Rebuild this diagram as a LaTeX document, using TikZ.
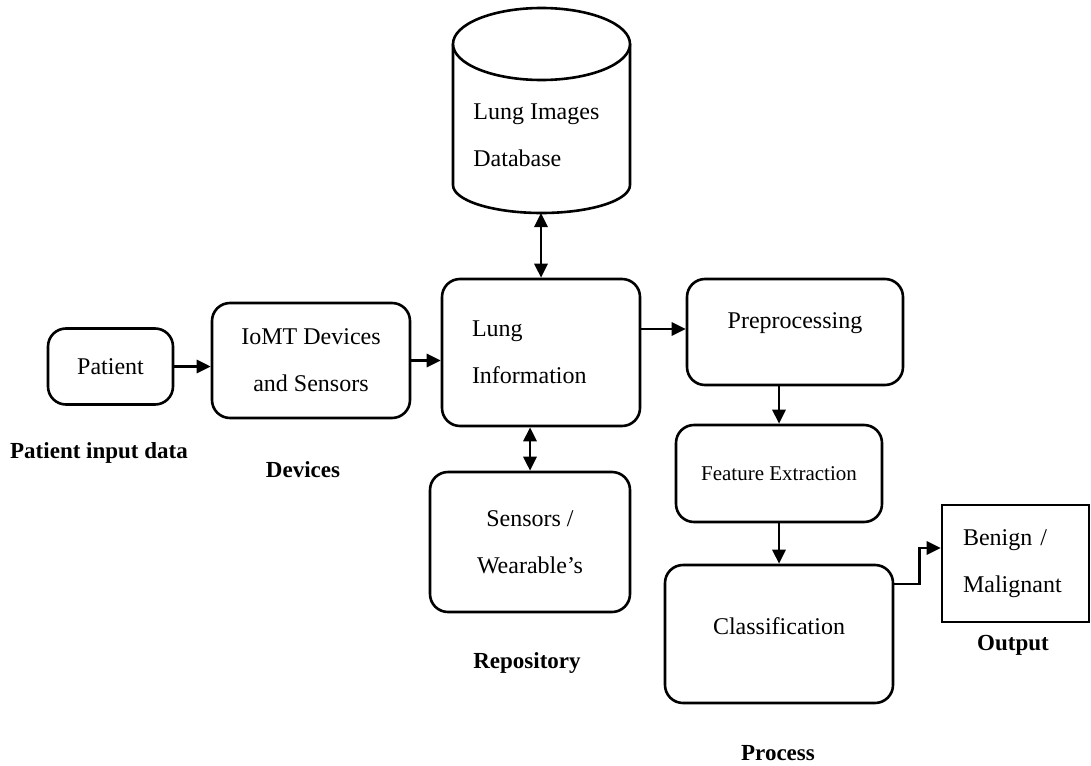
\documentclass[tikz,border=0pt]{standalone}
\usepackage{fontspec}
\setmainfont{Liberation Serif}
\usetikzlibrary{arrows.meta}

\begin{document}
\begin{tikzpicture}[x=0.5pt,y=-0.5pt,
    box/.style={draw,line width=1.3pt,rounded corners=9pt,align=center,font=\fontsize{12}{23.5}\selectfont},
    arr/.style={line width=1.4pt,-{Triangle[length=7pt,width=6.5pt]}},
    darr/.style={line width=1.4pt,{Triangle[length=7pt,width=6.5pt]}-{Triangle[length=7pt,width=6.5pt]}},
    tag/.style={font=\bfseries\fontsize{11.5}{13}\selectfont}]
  \useasboundingbox (0,0) rectangle (1091,765);
  % database cylinder
  \draw[line width=1.3pt] (453,44) -- (453,185) arc[start angle=180,end angle=360,x radius=44.25pt,y radius=14pt] -- (630,44);
  \draw[line width=1.3pt,fill=white] (541.5,44) ellipse[x radius=44.25pt,y radius=18pt];
  \node[anchor=west,align=left,inner sep=0pt,font=\fontsize{12}{23.5}\selectfont] (dbtext) at (473,135.5) {Lung Images\\Database};
  \coordinate (dbbot) at (541,213);
  % boxes
  \node[box,minimum width=62.5pt,minimum height=38pt] (patient) at (110.5,366.5) {Patient};
  \node[box,minimum width=99pt,minimum height=57.5pt] (iomt) at (311,360.5) {IoMT Devices\\and Sensors};
  \node[box,minimum width=99pt,minimum height=73.5pt,align=left,text width=69pt,inner xsep=15pt] (lung) at (541,352.5) {Lung\\Information};
  \node[box,minimum width=100pt,minimum height=70pt] (sens) at (530,542) {Sensors /\\Wearable's};
  \node[box,minimum width=108pt,minimum height=53pt,text depth=11.5pt] (prep) at (795,332) {Preprocessing};
  \node[box,minimum width=103pt,minimum height=48.5pt,font=\fontsize{10.5}{12}\selectfont] (feat) at (779,473.5) {Feature Extraction};
  \node[box,minimum width=114pt,minimum height=69pt,text depth=8pt] (class) at (779,634) {Classification};
  \node[box,rounded corners=0pt,minimum width=73.5pt,minimum height=58.5pt,align=left,text width=52.5pt,inner xsep=10.5pt] (out) at (1015.5,563.5) {Benign /\\Malignant};
  % labels
  \node[tag] (inputlbl) at (99,453) {Patient input data};
  \node[tag] (devlbl) at (303,470) {Devices};
  \node[tag] (replbl) at (527,663) {Repository};
  \node[tag] (outlbl) at (1013,645) {Output};
  \node[tag] (proclbl) at (778,753) {Process};
  % arrows
  \draw[arr] (patient.east) -- (patient.east -| iomt.west);
  \draw[arr] (iomt.east) -- (iomt.east -| lung.west);
  \draw[darr] (dbbot) -- (lung.north);
  \draw[darr] (lung.south -| sens.north) -- (sens.north);
  \draw[arr] ([yshift=11.75pt]lung.east) -- ([yshift=11.75pt]lung.east -| prep.west);
  \draw[arr] (prep.south -| feat.north) -- (feat.north);
  \draw[arr] (feat.south) -- (class.north);
  \draw[arr] ([yshift=25pt]class.east) -- ++(12.5pt,0) |- ([yshift=7.75pt]out.west);
\end{tikzpicture}
\end{document}
